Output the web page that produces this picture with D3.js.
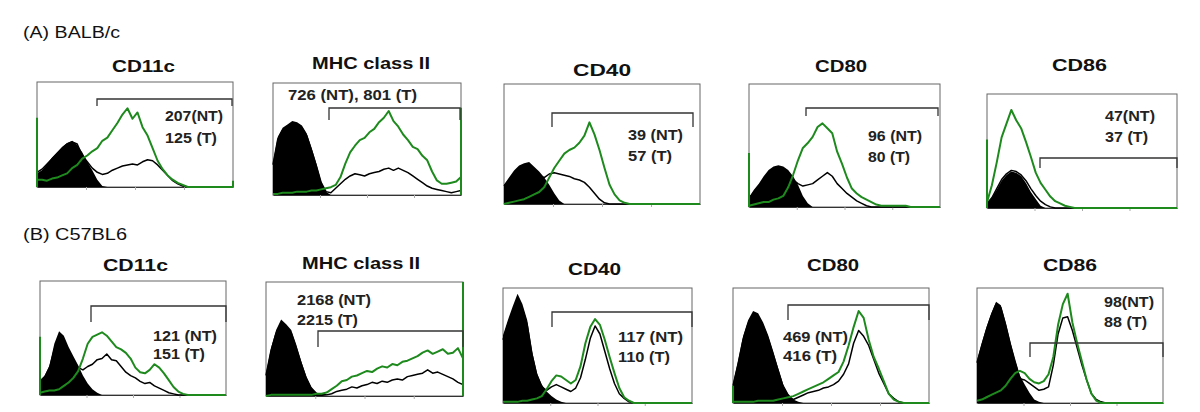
<!DOCTYPE html>
<html><head><meta charset="utf-8">
<script src="https://cdn.jsdelivr.net/npm/d3@7"></script>
<style>body{margin:0;background:#fff}svg{display:block}</style>
</head><body>
<svg id="c" width="1200" height="412"></svg>
<script>
// ---------------- DATA ----------------
const strains = ["(A) BALB/c", "(B) C57BL6"];
const markers = ["CD11c", "MHC class II", "CD40", "CD80", "CD86"];
const ntLabels = ["207(NT)", "726 (NT), 801 (T)", "39 (NT)", "96 (NT)", "47(NT)",
                  "121 (NT)", "2168 (NT)", "117 (NT)", "469 (NT)", "98(NT)"];
const tLabels  = ["125 (T)", "", "57 (T)", "80 (T)", "37 (T)",
                  "151 (T)", "2215 (T)", "110 (T)", "416 (T)", "88 (T)"];

// histogram heights (% of frame height), 40 bins across the log-fluorescence axis
const isoA1 = [13,16,22,28,33,38,42,44,40,33,24,16,7,1,0,0,0,0,0,0,0,0,0,0,0,0,0,0,0,0,0,0,0,0,0,0,0,0,0,0];
const ntA1  = [14,17,22,27,32,37,41,43,41,30,24,18,14,12,13,16,18,20,21,22,21,24,26,25,21,16,11,6,3,1,0,0,0,0,0,0,0,0,0,0];
const tA1   = [7,7,6,8,9,11,13,18,21,27,30,34,37,44,47,54,61,69,75,65,71,57,49,37,25,17,11,7,4,2,0,0,0,0,0,0,0,0,0,0];

const isoA2 = [29,52,60,63,66,65,62,55,42,28,12,3,0,0,0,0,0,0,0,0,0,0,0,0,0,0,0,0,0,0,0,0,0,0,0,0,0,0,0,0];
const ntA2  = [27,50,58,61,64,63,60,53,40,26,11,3,2,6,10,14,17,19,18,17,19,20,21,23,24,22,24,22,20,17,14,11,8,6,5,4,3,2,3,4];
const tA2   = [1,1,2,2,2,3,3,3,4,4,5,6,7,9,16,28,38,44,49,51,56,59,65,69,75,66,61,54,49,43,41,35,31,21,13,10,10,11,12,16];

const isoA3 = [16,22,28,32,34,35,31,27,22,16,9,3,0,0,0,0,0,0,0,0,0,0,0,0,0,0,0,0,0,0,0,0,0,0,0,0,0,0,0,0];
const ntA3  = [15,20,25,28,30,30,27,24,22,25,26,25,24,23,21,20,18,14,9,4,1,0,0,0,0,0,0,0,0,0,0,0,0,0,0,0,0,0,0,0];
const tA3   = [0,1,2,3,4,6,8,10,14,22,30,36,42,45,47,51,57,68,58,45,30,16,8,3,1,0,0,0,0,0,0,0,0,0,0,0,0,0,0,0];

const isoA4 = [8,14,19,25,30,33,34,33,30,25,18,9,3,0,0,0,0,0,0,0,0,0,0,0,0,0,0,0,0,0,0,0,0,0,0,0,0,0,0,0];
const ntA4  = [7,12,17,22,27,30,31,30,27,22,19,17,18,19,22,25,28,25,19,15,11,8,5,3,1,0,0,0,0,0,0,0,0,0,0,0,0,0,0,0];
const tA4   = [1,2,3,4,4,6,7,9,16,26,38,48,52,57,65,68,64,60,45,35,24,15,11,8,6,4,2,1,1,1,1,1,1,0,0,0,0,0,0,0];

const isoA5 = [4,9,16,24,29,32,31,28,22,14,8,2,0,0,0,0,0,0,0,0,0,0,0,0,0,0,0,0,0,0,0,0,0,0,0,0,0,0,0,0];
const ntA5  = [4,9,17,25,30,33,32,29,24,17,11,6,3,1,0,0,0,0,0,0,0,0,0,0,0,0,0,0,0,0,0,0,0,0,0,0,0,0,0,0];
const tA5   = [5,20,40,62,74,86,77,70,58,45,31,22,16,10,6,4,2,1,0,0,0,0,0,0,0,0,0,0,0,0,0,0,0,0,0,0,0,0,0,0];

const isoB1 = [13,17,26,45,56,52,42,34,26,17,10,5,2,0,0,0,0,0,0,0,0,0,0,0,0,0,0,0,0,0,0,0,0,0,0,0,0,0,0,0];
const ntB1  = [12,16,24,40,50,47,38,30,24,22,25,27,31,32,36,31,30,25,20,17,15,12,10,11,8,6,4,2,1,0,0,0,0,0,0,0,0,0,0,0];
const tB1   = [2,3,4,4,5,8,11,15,21,32,45,51,53,55,52,47,42,40,37,32,24,20,19,22,27,24,19,13,7,3,1,0,0,0,0,0,0,0,0,0];

const isoB2 = [20,42,58,67,63,58,45,30,17,8,3,1,0,0,0,0,0,0,0,0,0,0,0,0,0,0,0,0,0,0,0,0,0,0,0,0,0,0,0,0];
const ntB2  = [18,40,55,64,60,55,42,28,15,6,2,1,1,2,4,5,6,8,7,9,10,12,11,13,12,14,15,14,17,18,19,20,23,20,21,19,17,15,12,10];
const tB2   = [0,1,1,1,1,1,1,1,1,1,2,2,3,6,9,13,14,17,18,20,22,21,24,26,25,28,27,30,31,33,35,38,40,37,39,41,37,38,42,33];

const isoB3 = [59,72,84,95,86,72,45,26,16,10,6,3,1,0,0,0,0,0,0,0,0,0,0,0,0,0,0,0,0,0,0,0,0,0,0,0,0,0,0,0];
const ntB3  = [55,68,80,90,82,68,42,24,14,11,14,16,14,12,10,13,22,38,56,67,60,45,30,17,8,4,1,0,0,0,0,0,0,0,0,0,0,0,0,0];
const tB3   = [1,1,1,1,2,2,3,4,6,12,19,24,23,20,17,20,32,52,66,73,68,55,40,26,13,5,2,0,0,0,0,0,0,0,0,0,0,0,0,0];

const isoB4 = [17,36,58,72,80,78,70,59,45,30,16,8,3,1,0,0,0,0,0,0,0,0,0,0,0,0,0,0,0,0,0,0,0,0,0,0,0,0,0,0];
const ntB4  = [15,34,55,69,77,75,67,56,42,28,14,6,3,5,7,9,10,11,13,14,16,19,25,34,52,63,58,50,38,26,17,8,4,1,0,0,0,0,0,0];
const tB4   = [1,1,1,1,1,2,2,2,2,3,4,5,6,8,10,12,14,16,18,21,24,27,36,50,66,80,74,55,40,30,19,8,3,1,0,0,0,0,0,0];

const isoB5 = [37,52,66,78,88,85,70,53,37,24,16,9,3,1,0,0,0,0,0,0,0,0,0,0,0,0,0,0,0,0,0,0,0,0,0,0,0,0,0,0];
const ntB5  = [35,50,64,76,86,83,68,51,36,21,20,17,14,11,12,14,33,60,74,75,63,48,33,20,8,3,1,0,0,0,0,0,0,0,0,0,0,0,0,0];
const tB5   = [2,3,5,7,9,11,15,21,26,28,26,21,18,17,19,25,40,68,86,95,70,52,36,20,8,2,0,0,0,0,0,0,0,0,0,0,0,0,0,0];

// off-scale pile-up at the axis ends (green histograms)
const greenEdgeLeft  = [66, 0, 0, 44, 60, 51, 0, 0, 15, 0];
const greenEdgeRight = [6, 78, 0, 0, 0, 0, 100, 0, 0, 0];

const isoSeries = [isoA1, isoA2, isoA3, isoA4, isoA5, isoB1, isoB2, isoB3, isoB4, isoB5];
const ntSeries  = [ntA1, ntA2, ntA3, ntA4, ntA5, ntB1, ntB2, ntB3, ntB4, ntB5];
const tSeries   = [tA1, tA2, tA3, tA4, tA5, tB1, tB2, tB3, tB4, tB5];

// ---------------- LAYOUT ----------------
const frames = [[37,82,233,187],[273,83,461,195],[504,84,700,204],[749,84,940,207],[987,94,1177,208],
                [40,281,226,395],[266,282,463,396],[503,288,692,403],[733,288,929,403],[977,288,1163,403]];
const titlePos = [[143.5,72,63],[371,69,118],[602,76,58],[841,72,52],[1079.5,71,55],
                  [135.5,271,65],[361,269,118],[594.5,275,53],[833,271,52],[1070,271,54]];
const lab1Pos = [[165,121,58],[288,100,129],[628,140,55],[868,141,54],[1105,120.5,50],
                 [153,340.5,64],[297,305,74],[618,342,65],[783,342,65],[1104,307,50]];
const lab2Pos = [[165,143,52],null,[628,161,44],[868,162,42],[1105,142,43],
                 [153,359,52],[297,325,61],[618,362,52],[783,361,54],[1104,327,43]];
const brackets = [[97,232,99,106],[329,460,108,120],[552,693,113,127],[806,938,108,116],[1040,1177,158,168],
                  [91,226,306,322],[318,463,331,347],[552,692,312,327],[788,929,305,320],[1030,1163,343,357]];
const strainPos = [[23,38,97],[23,240,104]];

const GREEN = "#1e8a1e";
const svg = d3.select("#c");

strains.forEach((s, i) => {
  svg.append("text").attr("x", strainPos[i][0]).attr("y", strainPos[i][1])
    .attr("font-family", "Liberation Sans, Arial, sans-serif").attr("font-size", 16)
    .attr("fill", "#111")
    .attr("textLength", strainPos[i][2]).attr("lengthAdjust", "spacingAndGlyphs").text(s);
});

for (let p = 0; p < 10; p++) {
  const [x0, y0, x1, y1] = frames[p];
  const n = isoSeries[p].length;
  const x = d3.scaleLinear().domain([0, n - 1]).range([x0, x1]);
  const y = d3.scaleLinear().domain([0, 100]).range([y1, y0]);
  const g = svg.append("g");

  g.append("rect").attr("x", x0).attr("y", y0).attr("width", x1 - x0).attr("height", y1 - y0)
    .attr("fill", "#fff").attr("stroke", "#666").attr("stroke-width", 1);

  const ax = g.append("g").attr("transform", `translate(0,${y1})`)
    .call(d3.axisBottom(x).tickValues([0.25, 0.5, 0.75].map(f => f * (n - 1))).tickSize(3).tickSizeOuter(0).tickFormat(""));
  ax.select(".domain").attr("stroke", "#333");
  ax.selectAll(".tick line").attr("stroke", "#aaa");

  g.append("path").datum(isoSeries[p])
    .attr("d", d3.area().x((d, i) => x(i)).y0(y(0)).y1(d => y(d)))
    .attr("fill", "#000");

  g.append("path").datum(ntSeries[p])
    .attr("d", d3.line().x((d, i) => x(i)).y(d => y(d)))
    .attr("fill", "none").attr("stroke", "#000").attr("stroke-width", 1.5).attr("stroke-linejoin", "round");

  g.append("path").datum(tSeries[p])
    .attr("d", d3.line().x((d, i) => x(i)).y(d => y(d)))
    .attr("fill", "none").attr("stroke", GREEN).attr("stroke-width", 2).attr("stroke-linejoin", "round");

  if (greenEdgeLeft[p] > 0)
    g.append("line").attr("x1", x(0)).attr("x2", x(0)).attr("y1", y(0)).attr("y2", y(greenEdgeLeft[p]))
      .attr("stroke", GREEN).attr("stroke-width", 2);
  if (greenEdgeRight[p] > 0)
    g.append("line").attr("x1", x(n - 1)).attr("x2", x(n - 1)).attr("y1", y(0)).attr("y2", y(greenEdgeRight[p]))
      .attr("stroke", GREEN).attr("stroke-width", 2);

  const [bx1, bx2, by, bt] = brackets[p];
  g.append("path").attr("d", `M${bx1},${bt}V${by}H${bx2}V${bt}`)
    .attr("fill", "none").attr("stroke", "#333").attr("stroke-width", 1.3);

  const tp = titlePos[p];
  g.append("text").attr("x", tp[0]).attr("y", tp[1]).attr("text-anchor", "middle")
    .attr("font-family", "Liberation Sans, Arial, sans-serif").attr("font-weight", "bold").attr("font-size", 16)
    .attr("fill", "#111").attr("textLength", tp[2]).attr("lengthAdjust", "spacingAndGlyphs").text(markers[p % 5]);

  const l1 = lab1Pos[p];
  g.append("text").attr("x", l1[0]).attr("y", l1[1])
    .attr("font-family", "Liberation Sans, Arial, sans-serif").attr("font-weight", "bold").attr("font-size", 14.5)
    .attr("fill", "#222").attr("textLength", l1[2]).attr("lengthAdjust", "spacingAndGlyphs").text(ntLabels[p]);
  if (tLabels[p]) {
    const l2 = lab2Pos[p];
    g.append("text").attr("x", l2[0]).attr("y", l2[1])
      .attr("font-family", "Liberation Sans, Arial, sans-serif").attr("font-weight", "bold").attr("font-size", 14.5)
      .attr("fill", "#222").attr("textLength", l2[2]).attr("lengthAdjust", "spacingAndGlyphs").text(tLabels[p]);
  }
}
</script>
</body></html>
